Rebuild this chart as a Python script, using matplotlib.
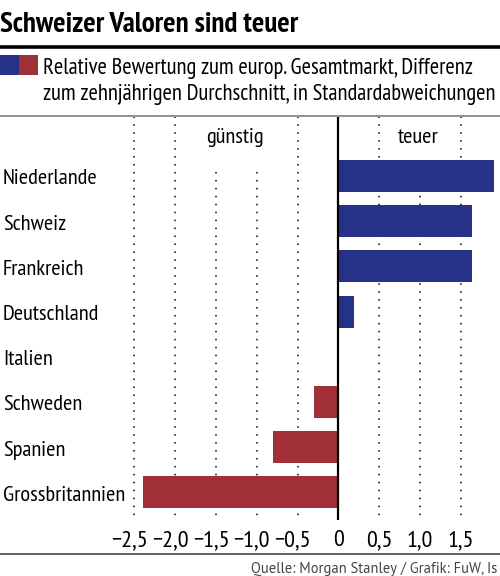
import matplotlib
matplotlib.use('Agg')
import matplotlib.pyplot as plt
import matplotlib.transforms as mtrans

# Daten
laender = ['Niederlande', 'Schweiz', 'Frankreich', 'Deutschland', 'Italien',
           'Schweden', 'Spanien', 'Grossbritannien']
werte = [1.90, 1.64, 1.64, 0.19, 0.0, -0.30, -0.80, -2.40]
ticks = [-2.5, -2.0, -1.5, -1.0, -0.5, 0, 0.5, 1.0, 1.5]
tick_labels = ['\u22122,5', '\u22122,0', '\u22121,5', '\u22121,0', '\u22120,5', '0', '0,5', '1,0', '1,5']

BLAU = '#263288'
ROT = '#a02f37'

plt.rcParams['font.family'] = ['PT Sans Narrow', 'DejaVu Sans']

W, H = 500, 576
fig = plt.figure(figsize=(W / 100, H / 100), dpi=100)
renderer = fig.canvas.get_renderer()

def fy(py):
    return 1 - py / H

def breite(t):
    return t.get_window_extent(renderer).width

def einpassen(t, ziel):
    # Schriftgroesse so setzen, dass die Textbreite der Vorlage entspricht
    t.set_fontsize(t.get_fontsize() * ziel / breite(t))
    return t.get_fontsize()

# Titel
titel = fig.text(0.0, fy(32.5), 'Schweizer Valoren sind teuer', fontsize=18, fontweight='bold',
                 va='baseline', ha='left')
einpassen(titel, 299)
fig.add_artist(plt.Line2D([0, 1], [fy(47), fy(47)], color='black', lw=2.6))

# Legende
fig.add_artist(plt.Rectangle((0, fy(75)), 19 / W, 20 / H, color=BLAU, lw=0))
fig.add_artist(plt.Rectangle((19 / W, fy(75)), 19 / W, 20 / H, color=ROT, lw=0))
leg1 = fig.text(43 / W, fy(74), 'Relative Bewertung zum europ. Gesamtmarkt, Differenz',
                fontsize=16, va='baseline', ha='left')
leg2 = fig.text(43 / W, fy(100), 'zum zehnjährigen Durchschnitt, in Standardabweichungen',
                fontsize=16, va='baseline', ha='left')
gr = einpassen(leg2, 450)
leg1.set_fontsize(gr)
fig.add_artist(plt.Line2D([0, 1], [fy(115.5), fy(115.5)], color='#8a8a8a', lw=1.3))

# Diagramm
ax_top, ax_bot = 117, 520
ax = fig.add_axes([0, fy(ax_bot), 1, (ax_bot - ax_top) / H])
null_px, einheit = 338.5, 81.6
ax.set_xlim(-null_px / einheit, (W - null_px) / einheit)
step, c0 = 45.2, 176
ax.set_ylim((ax_bot - c0) / step, (ax_top - c0) / step)

y = list(range(len(laender)))
farben = [BLAU if v >= 0 else ROT for v in werte]
ax.barh(y, werte, height=0.71, color=farben, zorder=3)

def axfrac(py):
    return (ax_bot - py) / (ax_bot - ax_top)

for t in ticks:
    if t == 0:
        continue
    top = 1.0
    if t in (-1.5, -1.0):
        top = axfrac(166)
    elif t == 1.0:
        top = axfrac(160)
    ax.axvline(t, ymin=0, ymax=top, color='black', lw=1.1, linestyle=(2, (1, 4.2)), zorder=1)
ax.axvline(0, color='black', lw=1.6, zorder=4)

# Laenderbeschriftung: Grundlinie ca. 8.5 px unter Balkenmitte
probe = fig.text(0, 0, 'Grossbritannien', fontsize=16)
lab_gr = einpassen(probe, 121)
probe.remove()
for i, name in enumerate(laender):
    fig.text(3 / W, fy(c0 + step * i + 8.5), name, fontsize=lab_gr, va='baseline', ha='left')

lab_y = fy(143.3)
fig.text((null_px - 1.27 * einheit) / W, lab_y, 'günstig', fontsize=lab_gr, ha='center', va='baseline')
fig.text((null_px + 0.98 * einheit) / W, lab_y, 'teuer', fontsize=lab_gr, ha='center', va='baseline')

# Achsenbeschriftung: Zahl zentriert, Minuszeichen haengt links
probe = fig.text(0, 0, tick_labels[0], fontsize=15)
tick_gr = einpassen(probe, 36.5)
ohne = fig.text(0, 0, tick_labels[0][1:], fontsize=tick_gr)
minus_px = breite(probe) - breite(ohne)
probe.remove()
ohne.remove()
for t, lab in zip(ticks, tick_labels):
    dx = -minus_px / 2 if lab.startswith('\u2212') else 0
    trans = fig.transFigure + mtrans.Affine2D().translate(dx, 0)
    xf = (null_px + t * einheit) / W
    fig.text(xf, fy(546), lab, fontsize=tick_gr, ha='center', va='baseline', transform=trans)

ax.set_xticks([])
ax.set_yticks([])
for s in ax.spines.values():
    s.set_visible(False)
ax.patch.set_alpha(0)

fig.add_artist(plt.Line2D([0, 1], [fy(554), fy(554)], color='#555555', lw=1.3))
quelle = fig.text(251 / W, fy(573), 'Quelle: Morgan Stanley / Grafik: FuW, Is', fontsize=8.7,
                  color='#444444', family=['PT Sans', 'DejaVu Sans'], va='baseline', ha='left')
einpassen(quelle, 246)

fig.savefig('out.png', dpi=100)
